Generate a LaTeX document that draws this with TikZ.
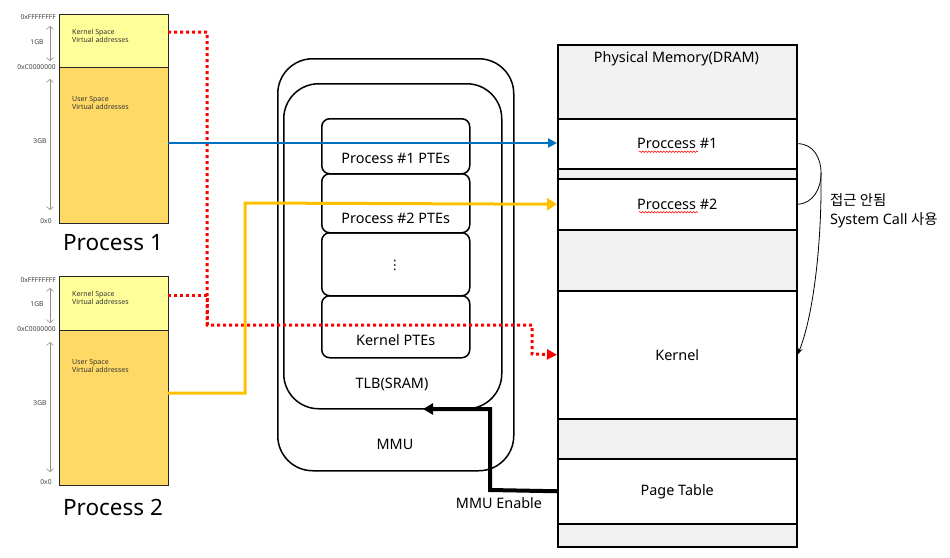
\documentclass[tikz,border=0pt]{standalone}
\usepackage{fontspec}
\setmainfont{Noto Sans}
\newfontfamily\krfont{Noto Sans CJK KR}
\newfontfamily\djfont{DejaVu Sans}
\usetikzlibrary{arrows.meta,calc,decorations.pathmorphing}
\definecolor{kspace}{HTML}{FFFF99}
\definecolor{uspace}{HTML}{FFD966}
\definecolor{lnblue}{HTML}{0070C0}
\definecolor{lnyellow}{HTML}{FFC000}
\definecolor{pmgray}{HTML}{F2F2F2}
\tikzset{
  vbox/.style={draw=black!85, line width=1.2pt, anchor=north west, inner sep=0pt},
  tiny/.style={font=\fontsize{7}{8.4}\selectfont, text=black!80, align=left, inner sep=0pt},
  addr/.style={font=\fontsize{6.7}{7.5}\selectfont, text=black!75, inner sep=0pt},
  gbarrow/.style={draw=black!45, line width=0.6pt, {Straight Barb[length=3pt,width=7pt]}-{Straight Barb[length=3pt,width=7pt]}},
  big/.style={font=\fontsize{22.5}{26}\selectfont},
  mmubox/.style={draw, line width=1.5pt, rounded corners=35pt, anchor=north west, inner sep=0pt},
  ptebox/.style={draw, line width=1.5pt, rounded corners=8pt, anchor=north west, inner sep=0pt, minimum width=148pt},
  lbl/.style={font=\fontsize{14.4}{16}\selectfont},
  pmsec/.style={draw, line width=1.5pt, anchor=north west, inner sep=0pt, minimum width=239pt},
  wavy/.style={draw=red, line width=0.5pt, decorate, decoration={snake, amplitude=0.8pt, segment length=3pt}},
}
\begin{document}
\begin{tikzpicture}[x=1pt,y=-1pt]
\useasboundingbox (0,0) rectangle (950,557);
% ---------- Process 1 ----------
\node[vbox, fill=kspace, minimum width=109pt, minimum height=53pt] (k1) at (59,14) {};
\node[vbox, fill=uspace, minimum width=109pt, minimum height=156pt] (u1) at (59,67) {};
\node[tiny, anchor=north west] at (72,29) {Kernel Space\\Virtual addresses};
\node[tiny, anchor=north west] at (72,96) {User Space\\Virtual addresses};
\node[addr, anchor=east] at (56,17) {0xFFFFFFFF};
\node[addr, anchor=east] at (56,67) {0xC0000000};
\node[addr] at (37,42) {1GB};
\node[addr] at (40,141) {3GB};
\node[addr] at (46,221) {0x0};
\coordinate (a1t) at (50,26); \coordinate (a1b) at (50,61);
\coordinate (a2t) at (50,79); \coordinate (a2b) at (50,210);
\draw[gbarrow] (a1t) -- (a1b);
\draw[gbarrow] (a2t) -- (a2b);
\node[big] (p1) at (113,243) {Process 1};
% ---------- Process 2 ----------
\node[vbox, fill=kspace, minimum width=109pt, minimum height=54pt] (k2) at (59,276) {};
\node[vbox, fill=uspace, minimum width=109pt, minimum height=155pt] (u2) at (59,330) {};
\node[tiny, anchor=north west] at (72,291) {Kernel Space\\Virtual addresses};
\node[tiny, anchor=north west] at (72,359) {User Space\\Virtual addresses};
\node[addr, anchor=east] at (56,280) {0xFFFFFFFF};
\node[addr, anchor=east] at (56,329) {0xC0000000};
\node[addr] at (37,304) {1GB};
\node[addr] at (40,403) {3GB};
\node[addr] at (46,482) {0x0};
\coordinate (b1t) at (50,288); \coordinate (b1b) at (50,323);
\coordinate (b2t) at (50,342); \coordinate (b2b) at (50,472);
\draw[gbarrow] (b1t) -- (b1b);
\draw[gbarrow] (b2t) -- (b2b);
\node[big] (p2) at (113,507) {Process 2};
% ---------- MMU ----------
\node[mmubox, minimum width=236pt, minimum height=412pt] (mmu) at (277,58) {};
\node[mmubox, minimum width=218pt, minimum height=325pt] (tlb) at (283,83) {};
\node[lbl] at (392,384) {TLB(SRAM)};
\node[lbl] at (395,444) {MMU};
\node[ptebox, minimum height=55pt] (e1) at (321,118) {};
\node[ptebox, minimum height=59pt] (e2) at (321,173) {};
\node[ptebox, minimum height=63pt] (e3) at (321,232) {};
\node[ptebox, minimum height=62pt] (e4) at (321,295) {};
\node[lbl] at ($(e1.south)+(0,-16)$) {Process \#1 PTEs};
\node[lbl] at ($(e2.south)+(0,-15)$) {Process \#2 PTEs};
\node[font=\djfont\fontsize{13}{14}\selectfont, inner sep=0pt] at ($(e3.center)+(-1,1)$) {⋮};
\node[lbl] at ($(e4.south)+(0,-18)$) {Kernel PTEs};
% ---------- Physical memory ----------
\node[pmsec, fill=pmgray, minimum height=74pt] (pm0) at (557,44) {};
\node[lbl] at (676.5,59) {Physical Memory(DRAM)};
\node[pmsec, fill=white, minimum height=50pt] (pp1) at (557,118) {};
\node[pmsec, fill=pmgray, minimum height=10pt] (g1) at (557,168) {};
\node[pmsec, fill=white, minimum height=51pt] (pp2) at (557,178) {};
\node[pmsec, fill=pmgray, minimum height=61pt] (g2) at (557,229) {};
\node[pmsec, fill=white, minimum height=128pt] (kern) at (557,290) {};
\node[pmsec, fill=pmgray, minimum height=40pt] (g3) at (557,418) {};
\node[pmsec, fill=white, minimum height=65pt] (pt) at (557,458) {};
\node[pmsec, fill=pmgray, minimum height=23pt] (g4) at (557,523) {};
\node[lbl] at (pp1.center) {Proccess \#1};
\node[lbl] at (pp2.center) {Proccess \#2};
\node[lbl] at (kern.center) {Kernel};
\node[lbl] at (pt.center) {Page Table};
\draw[wavy] ($(pp1.center)+(-38.5,8)$) -- ++(59,0);
\draw[wavy] ($(pp2.center)+(-38.5,8)$) -- ++(59,0);
% ---------- Connectors ----------
\coordinate (r1s) at (168,32);
\coordinate (r2s) at (168,295);
\coordinate (rj) at (207,325);
\draw[red, line width=3pt, dash pattern=on 3pt off 3pt, -{Triangle[length=10pt,width=10pt]}]
  (r1s) -- (207,32) -- (rj) -- (532,325) -- (532,354) -- (kern.west);
\draw[red, line width=3pt, dash pattern=on 3pt off 3pt] (r2s) -- (207,295) -- (rj);
\draw[lnblue, line width=2.5pt, -{Triangle[length=9pt,width=9pt]}] (168,143) coordinate (bs) -- (bs -| pp1.west);
\coordinate (ys) at (168,393);
\draw[lnyellow, line width=3pt, -{Triangle[length=10pt,width=12pt]}] (ys) -- (245,393) -- (245,203) -- (pp2.west);
\coordinate (mmuend) at (423,409);
\draw[black, line width=4pt, -{Triangle[length=10pt,width=11pt]}] (pt.west) -- (490,490) -- (490,409) -- (mmuend);
\node[lbl] (en) at (499,503) {MMU Enable};
% syscall
\coordinate (arcmid) at (821,173);
\draw[line width=0.8pt] (pp1.east) .. controls (829,143) and (829,203) .. (pp2.east);
\draw[line width=0.8pt, -{Stealth[length=7pt,width=5pt]}] (arcmid) .. controls (822,250) and (812,320) .. (kern.east);
\node[font=\fontsize{14.4}{19}\selectfont, align=left, anchor=west, inner sep=0pt] (sc) at (830,211) {{\krfont 접근 안됨}\\System Call {\krfont 사용}};
\end{tikzpicture}
\end{document}
